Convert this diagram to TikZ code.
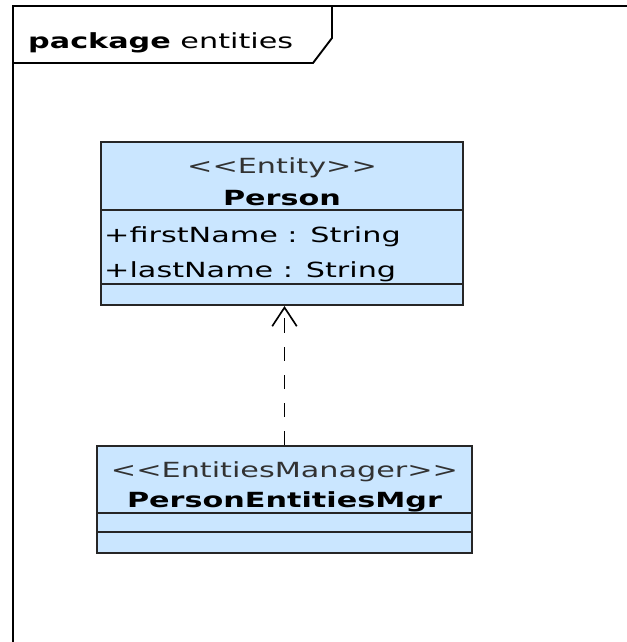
\documentclass[tikz,border=0pt]{standalone}
\usepackage{fontspec}
\setmainfont{DejaVu Sans}[FakeStretch=1.45]
\usetikzlibrary{arrows.meta}
\definecolor{classblue}{RGB}{202,230,255}
\definecolor{stereogray}{RGB}{50,50,50}
\begin{document}
\begin{tikzpicture}[x=0.03cm,y=-0.03cm,
    classbox/.style={draw=black!85,line width=1.7pt,fill=classblue,inner sep=0pt},
    sepline/.style={draw=black!85,line width=1.3pt},
    stereo/.style={anchor=base,text=stereogray,font=\fontsize{17.8}{21}\selectfont},
    cname/.style={anchor=base,font=\fontsize{17.8}{21}\selectfont\bfseries},
    attr/.style={anchor=base west,font=\fontsize{17.8}{21}\selectfont},
    dep/.style={line width=1.6pt,dash pattern=on 12pt off 12pt,-{Straight Barb[length=16pt,width=21pt,line width=1.4pt]}}]
    \useasboundingbox (0,0) rectangle (627,642);

    % package frame
    \draw[line width=1.8pt] (13,642) -- (13,6) -- (627,6);
    \draw[line width=1.6pt] (13,63) -- (313,63) -- (332,38) -- (332,6);
    \node[anchor=base west,inner sep=0pt,font=\fontsize{17.8}{21}\selectfont] (pkg) at (28,48) {\textbf{package} entities};

    % Person
    \node[classbox,minimum width=10.86cm,minimum height=4.89cm] (person) at (282,223.5) {};
    \node[stereo] (personstereo) at (282,173) {<{}<Entity>{}>};
    \node[cname] (personname) at (282,205) {Person};
    \draw[sepline] (102,210) -- (462,210);
    \node[attr,inner sep=0pt] (firstname) at (104,242) {+firstName : String};
    \node[attr,inner sep=0pt] (lastname) at (104,277) {+lastName : String};
    \draw[sepline] (102,284) -- (462,284);

    % PersonEntitiesMgr
    \node[classbox,minimum width=11.25cm,minimum height=3.21cm] (mgr) at (284.5,499.5) {};
    \node[stereo] (mgrstereo) at (284.5,477) {<{}<EntitiesManager>{}>};
    \node[cname] (mgrname) at (284.5,507) {PersonEntitiesMgr};
    \draw[sepline] (98,513) -- (471,513);
    \draw[sepline] (98,532) -- (471,532);

    % dependency
    \draw[dep] (mgr.north) -- (mgr.north |- person.south);
\end{tikzpicture}
\end{document}
